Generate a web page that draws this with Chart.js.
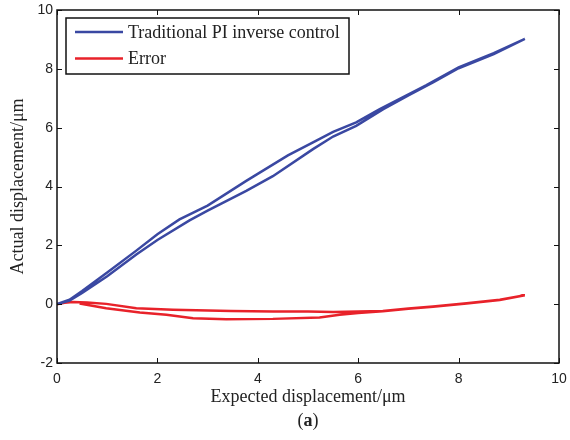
<!DOCTYPE html>
<html>
<head>
<meta charset="utf-8">
<script src="https://cdn.jsdelivr.net/npm/chart.js@4"></script>
<style>
  html, body { margin: 0; padding: 0; background: #fff; }
  #wrap { width: 570px; height: 440px; }
</style>
</head>
<body>
<div id="wrap"><canvas id="chart-canvas"></canvas></div>
<script>
// hysteresis loop of the output: rising branch then falling branch back to 0
const blue_x = [0, 0.25, 0.5, 1.0, 1.58, 2.0, 2.64, 3.0, 3.77, 4.3, 5.1, 5.5, 5.96, 6.5, 7.0, 7.5, 8.0, 8.7, 9.32,
                8.7, 8.0, 7.36, 6.43, 5.96, 5.5, 5.1, 4.6, 3.77, 3.0, 2.44, 2.0, 1.58, 1.0, 0.5, 0.25, 0];
const blue_y = [0, 0.12, 0.38, 0.95, 1.69, 2.18, 2.85, 3.18, 3.85, 4.35, 5.27, 5.70, 6.06, 6.63, 7.1, 7.55, 8.02, 8.5, 9.02,
                8.53, 8.05, 7.45, 6.63, 6.18, 5.86, 5.50, 5.06, 4.19, 3.35, 2.88, 2.38, 1.82, 1.08, 0.45, 0.15, 0];

// error loop
const red_x = [0, 0.15, 0.32, 0.6, 0.98, 1.58, 2.31, 3.47, 4.3, 5.0, 5.5, 6.0, 6.49, 7.0, 7.49, 8.16, 8.82, 9.32,
               8.82, 8.16, 7.49, 7.0, 6.49, 6.0, 5.63, 5.23, 4.3, 3.37, 2.71, 2.18, 1.65, 0.98, 0.45];
const red_y = [0, 0.05, 0.07, 0.06, 0.01, -0.14, -0.19, -0.23, -0.25, -0.25, -0.27, -0.25, -0.23, -0.15, -0.08, 0.03, 0.15, 0.30,
               0.14, 0.02, -0.09, -0.16, -0.24, -0.30, -0.36, -0.45, -0.50, -0.51, -0.48, -0.36, -0.28, -0.14, 0.02];

const series_labels = ['Traditional PI inverse control', 'Error'];
const series_colors = ['#3a48a2', '#e8222a'];

const x_ticks = [0, 2, 4, 6, 8, 10];
const y_ticks = [-2, 0, 2, 4, 6, 8, 10];

const serif = '"Liberation Serif", "DejaVu Serif", serif';
const sans = '"Liberation Sans", Arial, sans-serif';

function to_points(xs, ys) {
  return xs.map((x, i) => ({ x: x, y: ys[i] }));
}

// box on all four sides with inward ticks, like matlab
const box_plugin = {
  id: 'box_plugin',
  afterDraw(chart) {
    const { ctx, chartArea: a, scales } = chart;
    ctx.save();
    ctx.strokeStyle = '#111';
    ctx.lineWidth = 1.5;
    ctx.strokeRect(a.left, a.top, a.right - a.left, a.bottom - a.top);
    ctx.lineWidth = 1;
    const len = 5;
    ctx.beginPath();
    x_ticks.forEach(v => {
      const px = Math.round(scales.x.getPixelForValue(v)) + 0.5;
      ctx.moveTo(px, a.bottom); ctx.lineTo(px, a.bottom - len);
      ctx.moveTo(px, a.top); ctx.lineTo(px, a.top + len);
    });
    y_ticks.forEach(v => {
      const py = Math.round(scales.y.getPixelForValue(v)) + 0.5;
      ctx.moveTo(a.left, py); ctx.lineTo(a.left + len, py);
      ctx.moveTo(a.right, py); ctx.lineTo(a.right - len, py);
    });
    ctx.stroke();

    // legend inside the plot, with its own frame
    const lx = 66, ly = 18, lw = 283, lh = 56;
    ctx.fillStyle = '#fff';
    ctx.fillRect(lx, ly, lw, lh);
    ctx.lineWidth = 1.5;
    ctx.strokeRect(lx, ly, lw, lh);
    chart.data.datasets.forEach((ds, i) => {
      const y = ly + 14 + i * 26.5;
      ctx.strokeStyle = ds.borderColor;
      ctx.lineWidth = 2.5;
      ctx.beginPath();
      ctx.moveTo(75, y); ctx.lineTo(123, y);
      ctx.stroke();
      ctx.fillStyle = '#222';
      ctx.font = '18px ' + serif;
      ctx.textBaseline = 'middle';
      ctx.textAlign = 'left';
      ctx.fillText(ds.label, 128, y + 1);
    });

    // panel letter under the axis title
    ctx.fillStyle = '#222';
    ctx.textBaseline = 'middle';
    ctx.font = '18px ' + serif;
    const w1 = ctx.measureText('(').width;
    ctx.font = 'bold 18px ' + serif;
    const w2 = ctx.measureText('a').width;
    const cx = (a.left + a.right) / 2 - (2 * w1 + w2) / 2;
    ctx.font = '18px ' + serif;
    ctx.textAlign = 'left';
    ctx.fillText('(', cx, 421);
    ctx.font = 'bold 18px ' + serif;
    ctx.fillText('a', cx + w1, 421);
    ctx.font = '18px ' + serif;
    ctx.fillText(')', cx + w1 + w2, 421);
    ctx.restore();
  }
};

// fixed axis sizes, no extra room for overhanging end labels
function fix_x(s) {
  s.height = 77;
  s.paddingLeft = 0; s.paddingRight = 0;
}
function fix_y(s) {
  s.width = 57;
  s.paddingTop = 0; s.paddingBottom = 0;
}

const chart = new Chart(document.getElementById('chart-canvas'), {
  type: 'scatter',
  data: {
    datasets: [
      {
        label: series_labels[0],
        data: to_points(blue_x, blue_y),
        showLine: true,
        borderColor: series_colors[0],
        borderWidth: 2.5,
        pointRadius: 0,
        tension: 0
      },
      {
        label: series_labels[1],
        data: to_points(red_x, red_y),
        showLine: true,
        borderColor: series_colors[1],
        borderWidth: 2.5,
        pointRadius: 0,
        tension: 0
      }
    ]
  },
  options: {
    responsive: true,
    maintainAspectRatio: false,
    animation: false,
    layout: { padding: { left: 0, right: 11, top: 10, bottom: 0 } },
    plugins: {
      legend: { display: false },
      tooltip: { enabled: false }
    },
    scales: {
      x: {
        type: 'linear',
        min: 0,
        max: 10,
        afterFit: fix_x,
        afterBuildTicks: s => { s.ticks = x_ticks.map(v => ({ value: v })); },
        grid: { display: false, drawTicks: false },
        border: { display: false },
        ticks: { color: '#222', padding: 8, font: { family: sans, size: 14 } },
        title: {
          display: true,
          text: 'Expected displacement/μm',
          color: '#222',
          font: { family: serif, size: 18 },
          padding: { top: 0, bottom: 32 }
        }
      },
      y: {
        type: 'linear',
        min: -2,
        max: 10,
        afterFit: fix_y,
        afterBuildTicks: s => { s.ticks = y_ticks.map(v => ({ value: v })); },
        grid: { display: false, drawTicks: false },
        border: { display: false },
        ticks: { color: '#222', padding: 4, font: { family: sans, size: 14 } },
        title: {
          display: true,
          text: 'Actual displacement/μm',
          color: '#222',
          font: { family: serif, size: 18 },
          padding: { top: 7, bottom: 0 }
        }
      }
    }
  },
  plugins: [box_plugin]
});
</script>
</body>
</html>
